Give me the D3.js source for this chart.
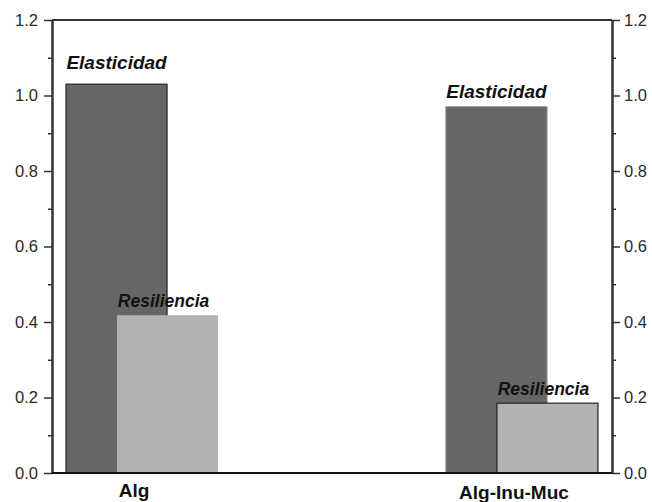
<!DOCTYPE html>
<html>
<head>
<meta charset="utf-8">
<script src="https://cdn.jsdelivr.net/npm/d3@7"></script>
<style>
  body { margin: 0; background: #fff; }
  text { font-family: "Liberation Sans", Arial, sans-serif; }
</style>
</head>
<body>
<script>
// data
const groups = ["Alg", "Alg-Inu-Muc"];
const series = ["Elasticidad", "Resiliencia"];
const elasticidad = [1.03, 0.97];
const resiliencia = [0.418, 0.185];
const yTicks = [0, 0.2, 0.4, 0.6, 0.8, 1.0, 1.2];

const width = 652, height = 502;
const plotLeft = 52, plotRight = 612, plotTop = 20, plotBottom = 473;

const svg = d3.select("body").append("svg")
    .attr("width", width)
    .attr("height", height);

const y = d3.scaleLinear().domain([0, 1.2]).range([plotBottom, plotTop]);
const x = d3.scalePoint().domain(groups).range([plotLeft, plotRight]).padding(0.237);
const xs = d3.scalePoint().domain(series).range([-25.5, 25.5]);
const barW = 101;

const fills = { "Elasticidad": "#666666", "Resiliencia": "#b2b2b2" };

// one row per bar
const bars = [];
groups.forEach((g, i) => {
  bars.push({ group: g, gi: i, s: "Elasticidad", v: elasticidad[i] });
  bars.push({ group: g, gi: i, s: "Resiliencia", v: resiliencia[i] });
});

// first group outlines the dark bar, second group outlines the light one
function strokeFor(d) {
  if (d.gi === 0) return d.s === "Elasticidad" ? "#222" : "none";
  return d.s === "Resiliencia" ? "#222" : "#8a8a8a";
}

svg.append("g")
  .selectAll("rect")
  .data(bars)
  .join("rect")
    .attr("x", d => x(d.group) + xs(d.s) - barW / 2)
    .attr("y", d => y(d.v))
    .attr("width", barW)
    .attr("height", d => y(0) - y(d.v))
    .attr("fill", d => fills[d.s])
    .attr("stroke", d => strokeFor(d))
    .attr("stroke-width", 1.2);

// bar labels
svg.append("g")
  .selectAll("text")
  .data(bars)
  .join("text")
    .attr("x", d => x(d.group) + xs(d.s) - (d.s === "Resiliencia" ? 4 : 0))
    .attr("y", d => y(d.v) - (d.s === "Elasticidad" ? (d.gi === 0 ? 15 : 9) : 8))
    .attr("text-anchor", "middle")
    .attr("font-size", d => d.s === "Elasticidad" ? "19px" : "17.5px")
    .attr("font-weight", "bold")
    .attr("font-style", "italic")
    .attr("fill", "#111")
    .text(d => d.s);

// axes
const axisColor = "#333";
const minorTicks = d3.range(0.1, 1.2, 0.2);

function styleAxis(g) {
  g.select(".domain").attr("stroke", axisColor).attr("stroke-width", 2);
  g.selectAll(".tick line").attr("stroke", axisColor).attr("stroke-width", 1.5);
  g.selectAll(".tick text").attr("fill", "#2a2a2a").attr("font-size", "16.5px")
    .attr("font-family", "Liberation Sans, Arial, sans-serif");
}

svg.append("g")
    .attr("transform", `translate(${plotLeft},0)`)
    .call(d3.axisLeft(y).tickValues(yTicks).tickFormat(d3.format(".1f")).tickSize(8).tickSizeOuter(0).tickPadding(6))
    .call(styleAxis);
svg.append("g")
    .attr("transform", `translate(${plotLeft},0)`)
    .call(d3.axisLeft(y).tickValues(minorTicks).tickFormat("").tickSize(4).tickSizeOuter(0))
    .call(styleAxis);

svg.append("g")
    .attr("transform", `translate(${plotRight},0)`)
    .call(d3.axisRight(y).tickValues(yTicks).tickFormat(d3.format(".1f")).tickSize(8).tickSizeOuter(0).tickPadding(4))
    .call(styleAxis);
svg.append("g")
    .attr("transform", `translate(${plotRight},0)`)
    .call(d3.axisRight(y).tickValues(minorTicks).tickFormat("").tickSize(4).tickSizeOuter(0))
    .call(styleAxis);

// frame top and bottom
svg.append("line")
    .attr("x1", plotLeft).attr("x2", plotRight).attr("y1", plotTop).attr("y2", plotTop)
    .attr("stroke", axisColor).attr("stroke-width", 2);
svg.append("line")
    .attr("x1", plotLeft).attr("x2", plotRight).attr("y1", plotBottom).attr("y2", plotBottom)
    .attr("stroke", "#111").attr("stroke-width", 2);

// category labels
svg.append("g")
  .selectAll("text")
  .data(groups)
  .join("text")
    .attr("x", d => x(d) - 8)
    .attr("y", (d, i) => 497 + i * 2)
    .attr("text-anchor", "middle")
    .attr("font-size", "19px")
    .attr("font-weight", "bold")
    .attr("fill", "#111")
    .text(d => d);
</script>
</body>
</html>
